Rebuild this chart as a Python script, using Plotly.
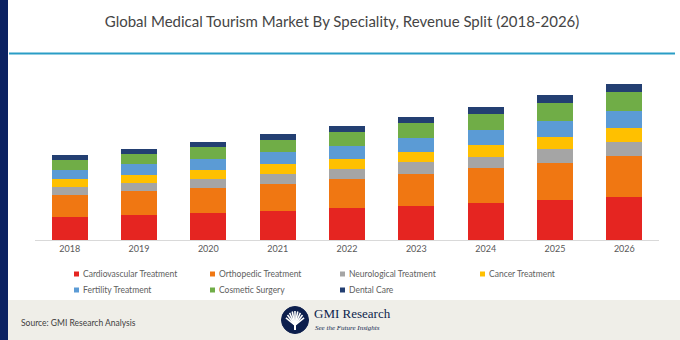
import plotly.graph_objects as go
import math

# ---------------- data ----------------
years = ["2018", "2019", "2020", "2021", "2022", "2023", "2024", "2025", "2026"]
series_names = ["Cardiovascular Treatment", "Orthopedic Treatment", "Neurological Treatment",
                "Cancer Treatment", "Fertility Treatment", "Cosmetic Surgery", "Dental Care"]
cardiovascular = [23.3, 25.0, 27.0, 29.3, 32.0, 34.0, 37.0, 39.7, 43.0]
orthopedic = [21.7, 24.0, 25.3, 27.0, 29.0, 32.0, 34.7, 37.6, 40.7]
neurological = [8.0, 8.0, 9.0, 10.0, 10.3, 11.7, 11.6, 13.4, 14.6]
cancer = [8.0, 8.3, 8.7, 9.7, 10.0, 10.6, 12.0, 12.0, 14.0]
fertility = [9.0, 10.3, 11.3, 12.0, 13.0, 13.7, 15.0, 16.3, 16.7]
cosmetic = [10.0, 10.0, 11.4, 12.0, 14.0, 15.3, 16.0, 18.0, 19.0]
dental = [5.3, 5.0, 5.6, 6.0, 5.7, 6.0, 7.0, 7.7, 8.3]
series_values = [cardiovascular, orthopedic, neurological, cancer, fertility, cosmetic, dental]
colors = ["#e52521", "#f07712", "#a5a5a5", "#ffc000", "#5b9bd5", "#70ad47", "#233f72"]

title = "Global Medical Tourism Market By Speciality, Revenue Split (2018-2026)"
source = "Source: GMI Research Analysis"

# ---------------- layout geometry ----------------
W, H = 680, 340
L, R, T, B = 35, 659, 70, 240
PW, PH = R - L, B - T


def px(x):
    return (x - L) / PW


def py(y):
    return (B - y) / PH


fig = go.Figure()
for name, vals, col in zip(series_names, series_values, colors):
    fig.add_trace(go.Bar(x=years, y=vals, name=name, marker=dict(color=col, line=dict(width=0)),
                         showlegend=False))

shapes = []
annotations = []

# left navy strip
shapes.append(dict(type="rect", xref="paper", yref="paper", x0=px(0), x1=px(8), y0=py(0), y1=py(340),
                   fillcolor="#0b2262", line=dict(width=0), layer="below"))
# teal rule under title
shapes.append(dict(type="line", xref="paper", yref="paper", x0=px(9), x1=px(675), y0=py(53.5), y1=py(53.5),
                   line=dict(color="#2a9dc6", width=2)))
# footer band
shapes.append(dict(type="rect", xref="paper", yref="paper", x0=px(8), x1=px(680), y0=py(300), y1=py(340),
                   fillcolor="#efeee8", line=dict(width=0), layer="below"))

# manual legend
col_x = [74, 210, 340, 480]
row_y = [274, 290]
for i, (name, col) in enumerate(zip(series_names, colors)):
    cx = col_x[i % 4]
    cy = row_y[i // 4]
    shapes.append(dict(type="rect", xref="paper", yref="paper", x0=px(cx), x1=px(cx + 5),
                       y0=py(cy - 2.5), y1=py(cy + 2.5), fillcolor=col, line=dict(width=0)))
    annotations.append(dict(xref="paper", yref="paper", x=px(cx + 7), y=py(cy), xanchor="left",
                            yanchor="middle", showarrow=False, text=name,
                            font=dict(family="Lato", size=8.5, color="#606060")))

# source text
annotations.append(dict(xref="paper", yref="paper", x=px(19), y=py(323), xanchor="left", yanchor="middle",
                        showarrow=False, text=source, font=dict(family="Lato", size=8.5, color="#404040")))

# logo: circle + fan
lcx, lcy, lr = 295, 320, 13.5
shapes.append(dict(type="circle", xref="paper", yref="paper", x0=px(lcx - lr), x1=px(lcx + lr),
                   y0=py(lcy - lr), y1=py(lcy + lr), fillcolor="#0d1f4d", line=dict(color="#0d1f4d", width=1)))
for k in range(9):
    ang = math.radians(25 + k * 16.25)
    x1 = lcx + 10 * math.cos(ang)
    y1 = lcy + 3 - 12 * math.sin(ang)
    shapes.append(dict(type="line", xref="paper", yref="paper", x0=px(lcx), y0=py(lcy + 5),
                       x1=px(x1), y1=py(y1), line=dict(color="white", width=1.6)))
shapes.append(dict(type="line", xref="paper", yref="paper", x0=px(lcx), y0=py(lcy + 5),
                   x1=px(lcx), y1=py(lcy + 10), line=dict(color="white", width=2)))
annotations.append(dict(xref="paper", yref="paper", x=px(312), y=py(313), xanchor="left", yanchor="middle",
                        showarrow=False, text="GMI Research",
                        font=dict(family="Liberation Serif", size=13, color="#0d1f4d")))
annotations.append(dict(xref="paper", yref="paper", x=px(313), y=py(327.5), xanchor="left", yanchor="middle",
                        showarrow=False, text="<i>See the Future Insights</i>",
                        font=dict(family="Liberation Serif", size=7, color="#0d1f4d")))

fig.update_layout(
    width=W, height=H,
    margin=dict(l=L, r=W - R, t=T, b=H - B, pad=0),
    barmode="stack", bargap=0.48,
    paper_bgcolor="white", plot_bgcolor="white",
    title=dict(text=title, x=0.503, xref="container", xanchor="center", y=1 - 22 / H, yref="container",
               yanchor="middle", font=dict(family="Lato", size=15, color="#454545")),
    xaxis=dict(showline=True, linecolor="#d9d9d9", linewidth=1, ticks="", showgrid=False,
               tickfont=dict(family="Lato", size=9, color="#595959"), range=[-0.5, 8.5], fixedrange=True),
    yaxis=dict(visible=False, range=[0, PH], showgrid=False, zeroline=False, fixedrange=True),
    shapes=shapes, annotations=annotations, showlegend=False,
)

fig.write_html("out.html")
